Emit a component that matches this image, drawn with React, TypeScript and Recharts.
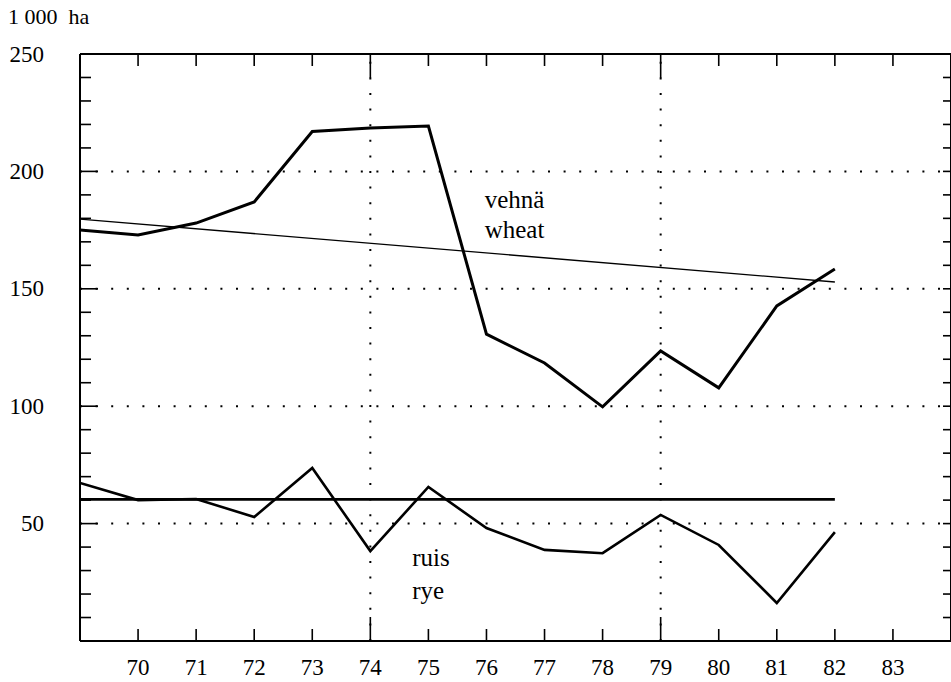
import React from 'react';
import { LineChart, Line, XAxis, YAxis, ReferenceLine, ReferenceDot } from 'recharts';

const years = [69, 70, 71, 72, 73, 74, 75, 76, 77, 78, 79, 80, 81, 82];
const wheat = [175.0, 172.9, 178.0, 187.0, 217.0, 218.5, 219.3, 130.7, 118.4, 99.7, 123.5, 107.8, 142.7, 158.4];
const rye = [67.3, 60.0, 60.5, 52.8, 73.7, 38.3, 65.6, 48.1, 38.8, 37.4, 53.7, 40.9, 16.2, 46.4];
const trendYears = [69, 82];
const wheatTrend = [179.7, 152.9];
const ryeMean = [60.3, 60.3];

const xTicks = [70, 71, 72, 73, 74, 75, 76, 77, 78, 79, 80, 81, 82, 83];
const longXTicks = [74, 79];
const yTicks = [0, 10, 20, 30, 40, 50, 60, 70, 80, 90, 100, 110, 120, 130, 140, 150, 160, 170, 180, 190, 200, 210, 220, 230, 240, 250];
const yLabels = [50, 100, 150, 200, 250];
const gridValues = [50, 100, 150, 200];
const gridYears = [74, 79];
const unitLabel = '1 000  ha';

const notes = [
  { text: 'vehnä', year: 75.97, value: 184.4 },
  { text: 'wheat', year: 75.97, value: 171.6 },
  { text: 'ruis', year: 74.72, value: 31.9 },
  { text: 'rye', year: 74.72, value: 17.9 },
];

const wheatData = years.map((x, i) => ({ x, v: wheat[i] }));
const ryeData = years.map((x, i) => ({ x, v: rye[i] }));
const trendData = trendYears.map((x, i) => ({ x, v: wheatTrend[i] }));
const meanData = trendYears.map((x, i) => ({ x, v: ryeMean[i] }));

const FONT = '"Liberation Serif", "Times New Roman", serif';
const FS = 23;

const BottomTick = (props: any) => {
  const { x, y, payload } = props;
  const long = longXTicks.includes(payload.value);
  return (
    <g>
      <line x1={x} x2={x} y1={y} y2={y - (long ? 24 : 12)} stroke="#000" strokeWidth={1.6} />
      <text x={x} y={y + 34} textAnchor="middle" fontSize={FS} fontFamily={FONT} fill="#000">
        {payload.value}
      </text>
    </g>
  );
};

const TopTick = (props: any) => {
  const { x, y, payload } = props;
  const long = longXTicks.includes(payload.value);
  return <line x1={x} x2={x} y1={y} y2={y + (long ? 24 : 12)} stroke="#000" strokeWidth={1.6} />;
};

const LeftTick = (props: any) => {
  const { x, y, payload } = props;
  const major = yLabels.includes(payload.value);
  return (
    <g>
      <line x1={x} x2={x + (major ? 18 : 11)} y1={y} y2={y} stroke="#000" strokeWidth={1.6} />
      {major ? (
        <text x={x - 36} y={y} dy={0} textAnchor="end" dominantBaseline="central" fontSize={FS} fontFamily={FONT} fill="#000">
          {payload.value}
        </text>
      ) : null}
    </g>
  );
};

const RightTick = (props: any) => {
  const { x, y } = props;
  return <line x1={x} x2={x - 8} y1={y} y2={y} stroke="#000" strokeWidth={1.6} />;
};

const NoteShape = (text: string) => (p: any) => (
  <text x={p.cx} y={p.cy} fontSize={25} fontFamily={FONT} fill="#000">
    {text}
  </text>
);

export default function App() {
  return (
    <div style={{ position: 'absolute', left: 0, top: 0, width: 951, height: 682, overflow: 'hidden', background: '#fff' }}>
      <div
        style={{
          position: 'absolute',
          left: 8,
          top: 6,
          fontFamily: FONT,
          fontSize: 22,
          lineHeight: '22px',
          whiteSpace: 'pre',
          color: '#000',
        }}
      >
        {unitLabel}
      </div>
      <LineChart width={952} height={682} margin={{ top: 53, right: 0, bottom: 40, left: 79 }}>
        <XAxis
          xAxisId="b"
          dataKey="x"
          type="number"
          domain={[69, 84]}
          ticks={xTicks}
          interval={0}
          height={1}
          tickSize={0}
          tickMargin={0}
          tickLine={false}
          axisLine={{ stroke: '#000', strokeWidth: 2 }}
          tick={<BottomTick />}
          allowDataOverflow
        />
        <XAxis
          xAxisId="t"
          orientation="top"
          dataKey="x"
          type="number"
          domain={[69, 84]}
          ticks={xTicks}
          interval={0}
          height={1}
          tickSize={0}
          tickMargin={0}
          tickLine={false}
          axisLine={{ stroke: '#000', strokeWidth: 2 }}
          tick={<TopTick />}
          allowDataOverflow
        />
        <YAxis
          yAxisId="l"
          type="number"
          domain={[0, 250]}
          ticks={yTicks}
          interval={0}
          width={1}
          tickSize={0}
          tickMargin={0}
          tickLine={false}
          axisLine={{ stroke: '#000', strokeWidth: 2 }}
          tick={<LeftTick />}
          allowDataOverflow
        />
        <YAxis
          yAxisId="r"
          orientation="right"
          type="number"
          domain={[0, 250]}
          ticks={yTicks}
          interval={0}
          width={1}
          tickSize={0}
          tickMargin={0}
          tickLine={false}
          axisLine={{ stroke: '#000', strokeWidth: 2 }}
          tick={<RightTick />}
          allowDataOverflow
        />
        {gridValues.map((v) => (
          <ReferenceLine key={'h' + v} y={v} xAxisId="b" yAxisId="l" stroke="#000" strokeWidth={2} strokeDasharray="2 13.6" />
        ))}
        {gridYears.map((v) => (
          <ReferenceLine key={'v' + v} x={v} xAxisId="b" yAxisId="l" stroke="#000" strokeWidth={2} strokeDasharray="2 13.6" />
        ))}
        <Line data={trendData} dataKey="v" xAxisId="b" yAxisId="l" stroke="#000" strokeWidth={1.3} dot={false} isAnimationActive={false} />
        <Line data={meanData} dataKey="v" xAxisId="b" yAxisId="l" stroke="#000" strokeWidth={2.6} dot={false} isAnimationActive={false} />
        <Line data={wheatData} dataKey="v" xAxisId="b" yAxisId="l" stroke="#000" strokeWidth={3} dot={false} isAnimationActive={false} />
        <Line data={ryeData} dataKey="v" xAxisId="b" yAxisId="l" stroke="#000" strokeWidth={2.6} dot={false} isAnimationActive={false} />
        {notes.map((n) => (
          <ReferenceDot key={n.text} x={n.year} y={n.value} xAxisId="b" yAxisId="l" r={0} shape={NoteShape(n.text)} />
        ))}
      </LineChart>
    </div>
  );
}
